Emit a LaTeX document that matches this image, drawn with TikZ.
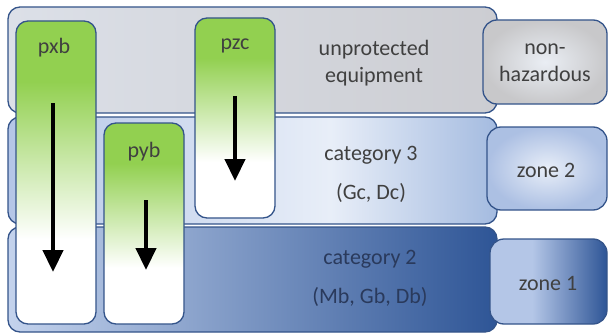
\documentclass[tikz,border=0pt]{standalone}
\usepackage{fontspec}
\setmainfont{Carlito}
\usetikzlibrary{arrows.meta,positioning}

\definecolor{bandline}{RGB}{52,84,138}
\definecolor{grayL}{RGB}{220,224,232}
\definecolor{grayR}{RGB}{204,205,210}
\definecolor{grayO}{RGB}{200,200,202}
\definecolor{grayI}{RGB}{234,238,244}
\definecolor{blueL}{RGB}{180,198,231}
\definecolor{blueM}{RGB}{232,238,248}
\definecolor{blueR}{RGB}{164,187,224}
\definecolor{deepL}{RGB}{196,211,237}
\definecolor{deepM}{RGB}{128,156,205}
\definecolor{deepR}{RGB}{46,85,150}
\definecolor{gtop}{RGB}{146,208,80}
\definecolor{txtgray}{RGB}{64,64,64}
\definecolor{txtblue}{RGB}{42,58,92}

\pgfdeclareverticalshading{greenfade}{100bp}{color(0bp)=(white); color(25bp)=(white); color(39bp)=(white); color(65bp)=(gtop); color(100bp)=(gtop)}
\pgfdeclarehorizontalshading{zoneone}{100bp}{color(0bp)=(blueL); color(43bp)=(blueL); color(75bp)=(deepR); color(100bp)=(deepR)}
\pgfdeclarehorizontalshading{cattwo}{100bp}{color(0bp)=(blueL); color(25bp)=(blueL); color(58bp)=(blueM); color(75bp)=(blueR); color(100bp)=(blueR)}

\tikzstyle{band}=[draw=bandline, line width=1.3pt, rounded corners=12pt, inner sep=0pt, minimum width=489pt]
\tikzstyle{zonebox}=[draw=bandline, line width=1.3pt, rounded corners=14pt, inner sep=0pt]
\tikzstyle{pbox}=[draw=bandline, line width=1.3pt, rounded corners=12pt, inner sep=0pt, minimum width=80pt, shading=greenfade]
\tikzstyle{txt}=[font=\fontsize{22}{27}\selectfont, text=txtgray, align=center, inner sep=0pt]
\tikzstyle{wide}=[font=\fontsize{22}{39}\selectfont]
\tikzstyle{flow}=[line width=4.5pt, -{Triangle[width=20pt,length=22pt]}]

\begin{document}
\begin{tikzpicture}[x=1pt,y=-1pt]
  \useasboundingbox (0,0) rectangle (609,334);
  % protection bands
  \node[band, minimum height=105pt, left color=deepL, middle color=deepM, right color=deepR] (cat2) at (252.5,279.5) {};
  \node[band, minimum height=107pt, shading=cattwo] (cat3) at (252.5,170.5) {};
  \node[band, minimum height=106pt, left color=grayL, right color=grayR] (unprot) at (252.5,60) {};
  % zones
  \node[zonebox, minimum width=124pt, minimum height=84pt, inner color=grayI, outer color=grayO] (nonhaz) at (545,62) {};
  \node[zonebox, minimum width=120pt, minimum height=83pt, inner color=blueM, outer color=blueL!85!deepM] (zone2) at (547,168.5) {};
  \node[zonebox, minimum width=117pt, minimum height=85pt, shading=zoneone] (zone1) at (548.5,281.5) {};
  % purge types
  \node[pbox, minimum height=303pt] (pxb) at (56,172.5) {};
  \node[pbox, minimum height=201pt] (pyb) at (144,223.5) {};
  \node[pbox, minimum height=200pt] (pzc) at (235,118) {};

  \node[txt] (pxbt) at (54,48) {pxb};
  \node[txt] (pybt) at (144,152) {pyb};
  \node[txt] (pzct) at (235,46) {pzc};

  \node[txt] (unprott) at (374,63) {unprotected\\equipment};
  \node[txt, wide] (cat3t) at (371,174.5) {category 3\\(Gc, Dc)};
  \node[txt, wide, text=txtblue] (cat2t) at (370,278) {category 2\\(Mb, Gb, Db)};
  \node[txt] (nonhazt) at (545,63) {non-\\hazardous};
  \node[txt] (zone2t) at (546,170) {zone 2};
  \node[txt] (zone1t) at (548,283) {zone 1};

  \coordinate (xs) at (53,103);
  \coordinate (xe) at (53,272);
  \coordinate (ys) at (146,200);
  \coordinate (ye) at (146,270);
  \coordinate (zs) at (235,96);
  \coordinate (ze) at (235,181);
  \path[flow]
    (xs) edge (xe)
    (ys) edge (ye)
    (zs) edge (ze)
    ;
\end{tikzpicture}
\end{document}
